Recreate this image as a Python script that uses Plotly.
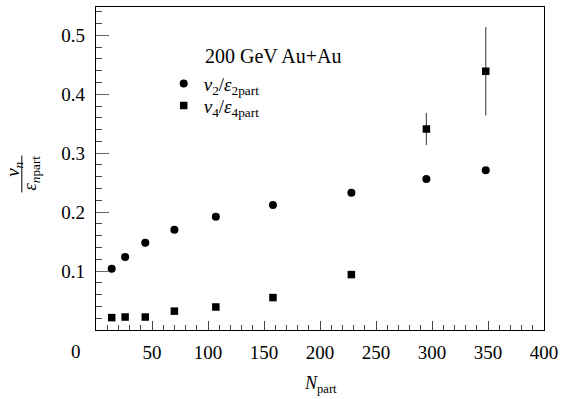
import plotly.graph_objects as go

npart = [14, 26, 44, 70, 107, 158, 228, 295, 348]
v2_eps2 = [0.104, 0.124, 0.148, 0.170, 0.192, 0.212, 0.233, 0.256, 0.271]
npart4 = [14, 26, 44, 70, 107, 158, 228, 295, 348]
v4_eps4 = [0.021, 0.022, 0.022, 0.032, 0.039, 0.055, 0.094, 0.341, 0.439]
v4_err = [0, 0, 0, 0, 0, 0, 0, 0.027, 0.075]
x_tickvals = [0, 50, 100, 150, 200, 250, 300, 350, 400]
x_ticktext = ["", "50", "100", "150", "200", "250", "300", "350", "400"]
y_tickvals = [0, 0.1, 0.2, 0.3, 0.4, 0.5]
y_ticktext = ["", "0.1", "0.2", "0.3", "0.4", "0.5"]

W, H = 564, 399
L, R, T, B = 96, 18, 6, 69
PW, PH = W - L - R, H - T - B

def px(x):
    return (x - L) / PW

def py(y):
    return (H - B - y) / PH

FONT = "Liberation Serif"

fig = go.Figure()
fig.add_trace(go.Scatter(
    x=npart, y=v2_eps2, mode="markers",
    marker=dict(symbol="circle", size=8, color="black"),
    name="<i>ν</i><sub>2</sub>/<i>ε</i><sub>2part</sub>",
    legend="legend",
))
fig.add_trace(go.Scatter(
    x=npart4, y=v4_eps4, mode="markers",
    marker=dict(symbol="square", size=7.5, color="black"),
    error_y=dict(type="data", array=v4_err, visible=True, width=0, thickness=1.2, color="#555555"),
    name="<i>ν</i><sub>4</sub>/<i>ε</i><sub>4part</sub>",
    legend="legend2",
))

axis_common = dict(
    showline=True, linecolor="black", linewidth=1.2, mirror=True,
    showgrid=False, zeroline=False, ticks="inside",
    tickfont=dict(family=FONT, size=19, color="black"),
)

fig.update_xaxes(
    range=[0, 400], tickvals=x_tickvals, ticktext=x_ticktext,
    ticklen=9, tickcolor="#444444", tickwidth=1,
    minor=dict(dtick=10, tick0=0, ticks="inside", ticklen=5, tickcolor="#444444"),
    ticklabelstandoff=5,
    **axis_common,
)
fig.update_yaxes(
    range=[0, 0.548], tickvals=y_tickvals, ticktext=y_ticktext,
    ticklen=13, tickcolor="#666666", tickwidth=1,
    minor=dict(dtick=0.02, tick0=0, ticks="inside", ticklen=6, tickcolor="#444444"),
    ticklabelstandoff=6,
    **axis_common,
)

def A(x, y, text, size=19, angle=0, xa="center", ya="middle"):
    return dict(x=px(x), y=py(y), xref="paper", yref="paper", text=text,
                textangle=angle, showarrow=False, xanchor=xa, yanchor=ya,
                font=dict(family=FONT, size=size, color="black"))

ann = [
    A(76, 352, "0"),
    A(322, 385, "<i>N</i><sub>part</sub>", size=18),
    A(14, 169, "<i>ν<sub>n</sub></i>", angle=-90),
    A(31, 173, "<i>ε<sub>n</sub></i><sub>part</sub>", angle=-90),
    A(203, 55, "200 GeV Au+Au", size=20, xa="left"),
]

fig.add_shape(type="line", xref="paper", yref="paper",
              x0=px(21.5), x1=px(21.5), y0=py(155), y1=py(192),
              line=dict(color="black", width=1))

leg_common = dict(xanchor="left", yanchor="middle", bgcolor="rgba(0,0,0,0)",
                  font=dict(family=FONT, size=19, color="black"), itemwidth=30)

fig.update_layout(
    width=W, height=H,
    margin=dict(l=L, r=R, t=T, b=B),
    paper_bgcolor="white", plot_bgcolor="white",
    annotations=ann,
    legend=dict(x=px(164), y=py(83), **leg_common),
    legend2=dict(x=px(164), y=py(105), **leg_common),
    showlegend=True,
)

fig.write_html("out.html", config={"displayModeBar": False},
               post_script="document.body.style.margin='0';document.body.style.overflow='hidden';")
